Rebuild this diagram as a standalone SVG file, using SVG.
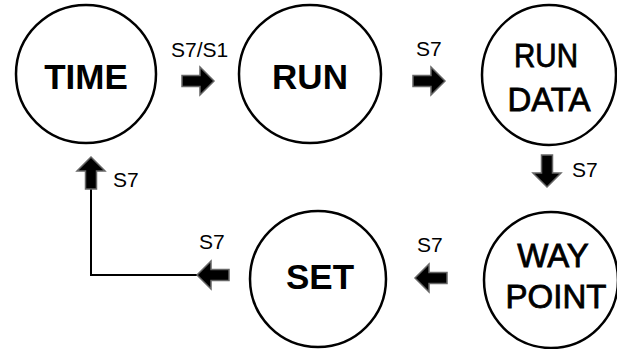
<svg xmlns="http://www.w3.org/2000/svg" width="617" height="349" viewBox="0 0 617 349">
<style>
.node{fill:#fff;stroke:#000;stroke-width:2.5}
.big{font-family:"Liberation Sans",Arial,sans-serif;font-weight:bold;font-size:35px;text-anchor:middle;fill:#000}
.big2{font-family:"Liberation Sans",Arial,sans-serif;font-weight:normal;font-size:33px;text-anchor:middle;fill:#000;stroke:#000;stroke-width:0.8}
.lbl{font-family:"Liberation Sans",Arial,sans-serif;font-size:21px;fill:#000}
.arr{fill:#000;stroke:#666;stroke-width:1.5;stroke-linejoin:miter}
.line{fill:none;stroke:#000;stroke-width:2}
</style>
<defs>
<path id="blk" d="M0,0 L-14,-14 L-14,-5.5 L-32,-5.5 L-32,5.5 L-14,5.5 L-14,14 Z"/>
</defs>
<rect width="617" height="349" fill="#fff"/>
<g id="time">
<ellipse class="node" cx="86" cy="74" rx="70" ry="69"/>
<text class="big" x="86" y="89">TIME</text>
</g>
<g id="run">
<ellipse class="node" cx="310" cy="74" rx="71" ry="69"/>
<text class="big" x="310" y="89">RUN</text>
</g>
<g id="rundata">
<ellipse class="node" cx="549" cy="75" rx="67" ry="70"/>
<text class="big2" x="546" y="67" textLength="64" lengthAdjust="spacingAndGlyphs">RUN</text>
<text class="big2" x="549" y="111">DATA</text>
</g>
<g id="waypoint">
<ellipse class="node" cx="551" cy="280" rx="67" ry="68"/>
<text class="big2" x="553" y="267">WAY</text>
<text class="big2" x="556" y="308">POINT</text>
</g>
<g id="set">
<ellipse class="node" cx="318" cy="279" rx="68" ry="68"/>
<text class="big" x="320" y="289">SET</text>
</g>
<g id="connectors">
<polyline class="line" points="197,275 91,275 91,188"/>
<use href="#blk" class="arr" transform="translate(214,81)"/>
<use href="#blk" class="arr" transform="translate(445,81)"/>
<use href="#blk" class="arr" transform="translate(547,187) rotate(90)"/>
<use href="#blk" class="arr" transform="translate(415,278) rotate(180)"/>
<use href="#blk" class="arr" transform="translate(197,275) rotate(180)"/>
<use href="#blk" class="arr" transform="translate(91,157) rotate(-90)"/>
<text class="lbl" x="171" y="57">S7/S1</text>
<text class="lbl" x="416" y="56">S7</text>
<text class="lbl" x="572" y="177">S7</text>
<text class="lbl" x="417" y="252">S7</text>
<text class="lbl" x="199" y="249">S7</text>
<text class="lbl" x="113" y="187">S7</text>
</g>
</svg>
